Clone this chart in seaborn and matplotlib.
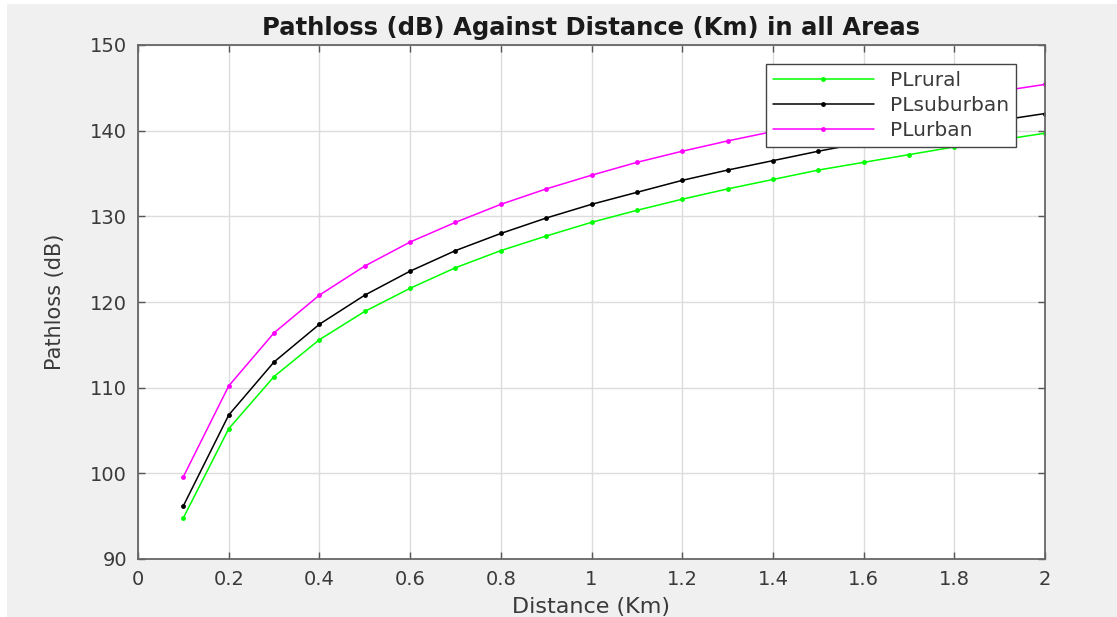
import numpy as np
import pandas as pd
import matplotlib
matplotlib.use("Agg")
import matplotlib.pyplot as plt
import seaborn as sns
from matplotlib.patches import Rectangle

distance = [0.1, 0.2, 0.3, 0.4, 0.5, 0.6, 0.7, 0.8, 0.9, 1.0,
            1.1, 1.2, 1.3, 1.4, 1.5, 1.6, 1.7, 1.8, 1.9, 2.0]
pl_rural = [94.8, 105.2, 111.3, 115.6, 118.9, 121.6, 124.0, 126.0, 127.7, 129.3,
            130.7, 132.0, 133.2, 134.3, 135.4, 136.3, 137.2, 138.1, 138.9, 139.7]
pl_suburban = [96.2, 106.8, 113.0, 117.4, 120.8, 123.6, 126.0, 128.0, 129.8, 131.4,
               132.8, 134.2, 135.4, 136.5, 137.6, 138.6, 139.5, 140.4, 141.2, 142.0]
pl_urban = [99.6, 110.2, 116.4, 120.8, 124.2, 127.0, 129.3, 131.4, 133.2, 134.8,
            136.3, 137.6, 138.8, 139.9, 141.0, 142.0, 142.9, 143.8, 144.6, 145.4]
series_names = ["PLrural", "PLsuburban", "PLurban"]
colors = ["#00ff00", "#000000", "#ff00ff"]
x_ticks = [0, 0.2, 0.4, 0.6, 0.8, 1, 1.2, 1.4, 1.6, 1.8, 2]
x_tick_labels = ["0", "0.2", "0.4", "0.6", "0.8", "1", "1.2", "1.4", "1.6", "1.8", "2"]
y_ticks = [90, 100, 110, 120, 130, 140, 150]

df = pd.DataFrame({
    "Distance": distance * 3,
    "Pathloss": pl_rural + pl_suburban + pl_urban,
    "Series": [series_names[0]] * len(distance) + [series_names[1]] * len(distance)
              + [series_names[2]] * len(distance),
})

sns.set_style("white")
plt.rcParams["font.family"] = ["DejaVu Sans"]

fig = plt.figure(figsize=(11.17, 6.17), dpi=100)
fig.patch.set_facecolor("white")
fig.patches.append(Rectangle((7 / 1117, 0), 1 - 7 / 1117, 1 - 4 / 617,
                             transform=fig.transFigure, facecolor="#f0f0f0",
                             edgecolor="none", zorder=-10))
ax = fig.add_axes([138 / 1117, 1 - 559 / 617, (1045 - 138) / 1117, (559 - 45) / 617])
ax.set_facecolor("white")

sns.lineplot(data=df, x="Distance", y="Pathloss", hue="Series", hue_order=series_names,
             palette=colors, marker="o", markersize=3.5, markeredgewidth=0,
             linewidth=1.1, ax=ax, legend=True)

ax.set_xlim(0, 2)
ax.set_ylim(90, 150)
ax.set_xticks(x_ticks)
ax.set_xticklabels(x_tick_labels)
ax.set_yticks(y_ticks)
ax.grid(True, color="#dcdcdc", linewidth=1.0)
ax.set_axisbelow(True)
ax.tick_params(direction="in", length=5, width=1, colors="#555555",
               labelcolor="#3a3a3a", labelsize=14, pad=8, top=True, right=True,
               bottom=True, left=True, labeltop=False, labelright=False)
for s in ax.spines.values():
    s.set_color("#666666")
    s.set_linewidth(1.3)

ax.set_title("Pathloss (dB) Against Distance (Km) in all Areas", fontsize=17.5,
             fontweight="bold", color="#1a1a1a", pad=7)
ax.set_xlabel("Distance (Km)", fontsize=16, color="#3a3a3a", labelpad=6)
ax.set_ylabel("Pathloss (dB)", fontsize=15, color="#3a3a3a", labelpad=18)

leg = ax.legend(loc="upper right", bbox_to_anchor=((1016 - 138) / 907, 1 - (64 - 45) / 514),
                fontsize=14.5, frameon=True, fancybox=False, handlelength=5.0,
                borderpad=0.35, labelspacing=0.3, handletextpad=0.8, borderaxespad=0)
leg.get_frame().set_edgecolor("#444444")
leg.get_frame().set_linewidth(1.0)
leg.get_frame().set_facecolor("white")
leg.get_frame().set_alpha(1)
for t in leg.get_texts():
    t.set_color("#3a3a3a")

fig.savefig("out.png", dpi=100, facecolor=fig.get_facecolor())
